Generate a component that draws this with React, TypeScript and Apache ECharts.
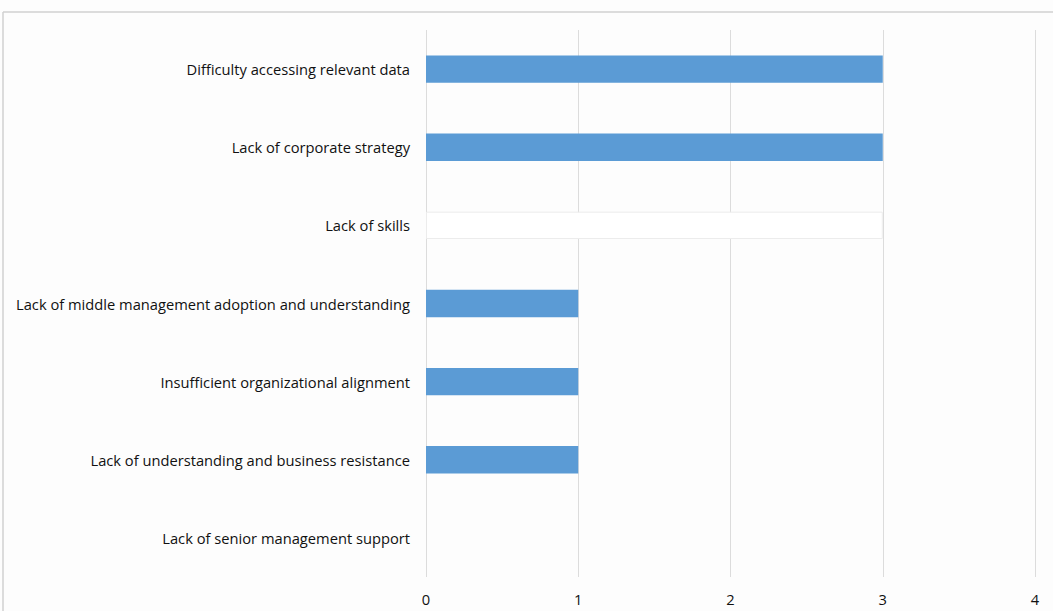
import React, { useEffect, useRef } from "react";
import * as echarts from "echarts";

const categories = [
  "Difficulty accessing relevant data",
  "Lack of corporate strategy",
  "Lack of skills",
  "Lack of middle management adoption and understanding",
  "Insufficient organizational alignment",
  "Lack of understanding and business resistance",
  "Lack of senior management support",
];
const values = [3, 3, 3, 1, 1, 1, 0];
// the "Lack of skills" bar is drawn as an outlined white bar
const hollow = [false, false, true, false, false, false, false];
const xTicks = [0, 1, 2, 3, 4];

const FONT = "Open Sans";

export default function App() {
  const ref = useRef<HTMLDivElement>(null);
  useEffect(() => {
    const chart = echarts.init(ref.current!, null, { renderer: "svg" });
    chart.setOption({
      animation: false,
      backgroundColor: "#fdfdfd",
      grid: { left: 426, right: 18, top: 30, bottom: 34 },
      xAxis: {
        type: "value",
        min: xTicks[0],
        max: xTicks[xTicks.length - 1],
        interval: 1,
        axisLine: { show: false },
        axisTick: { show: false },
        splitLine: { show: true, lineStyle: { color: "#dcdcdc", width: 1 } },
        axisLabel: { color: "#111", fontFamily: FONT, fontSize: 14.7, margin: 14 },
      },
      yAxis: {
        type: "category",
        data: categories,
        inverse: true,
        axisLine: { show: false },
        axisTick: { show: false },
        axisLabel: { color: "#111", fontFamily: FONT, fontSize: 14.7, margin: 16 },
      },
      series: [
        {
          type: "bar",
          barWidth: "35%",
          data: values.map((v, i) => ({
            value: v,
            itemStyle: hollow[i]
              ? { color: "#ffffff", borderColor: "#ececec", borderWidth: 1 }
              : { color: "#5b9bd5" },
          })),
        },
      ],
      graphic: [
        { type: "line", shape: { x1: 3, y1: 12, x2: 1053, y2: 12 }, style: { stroke: "#d0d0d0", lineWidth: 1.5 } },
        { type: "line", shape: { x1: 3, y1: 12, x2: 3, y2: 611 }, style: { stroke: "#d0d0d0", lineWidth: 1.5 } },
      ],
    });
    return () => chart.dispose();
  }, []);
  return (
    <div
      ref={ref}
      style={{ position: "fixed", left: 0, top: 0, width: 1053, height: 611, background: "#fff" }}
    />
  );
}
